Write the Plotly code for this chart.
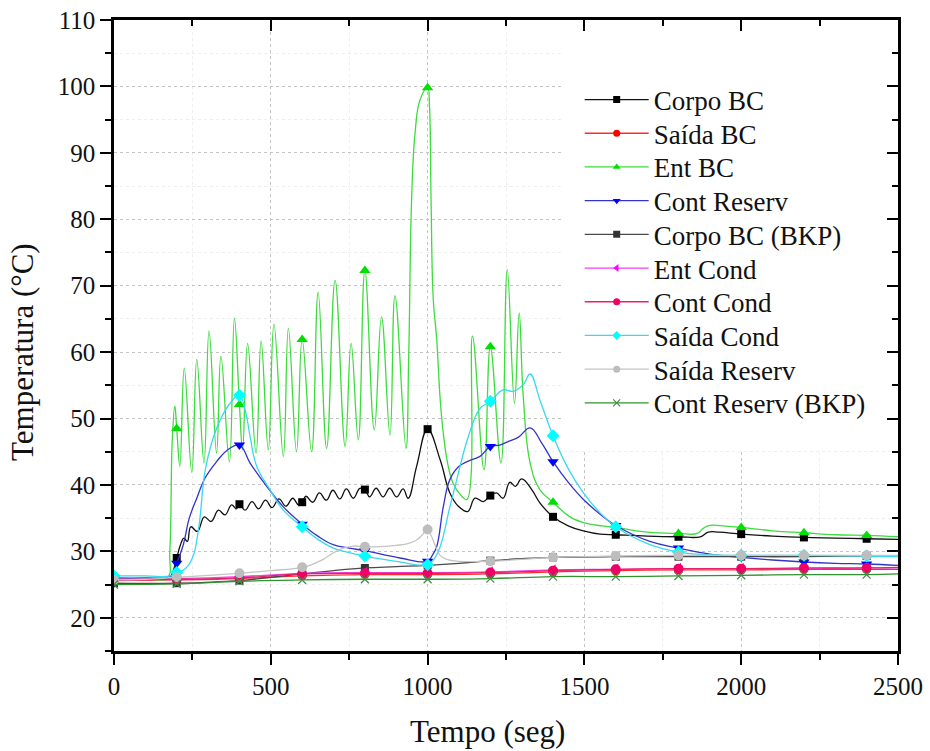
import plotly.graph_objects as go

# Sampling instants (s) where the symbols are placed on every curve
MARKER_TIMES = list(range(0, 2401, 200))

X_RANGE = [0, 2500]
Y_RANGE = [15, 110]

# (tempo [s], temperatura [°C]) for each sensor
CORPO_BC = [(0, 25.9), (100, 25.9), (175, 26.0), (188, 27.0), (200, 29.0), (212, 31.0), (223, 32.0),
            (234, 31.5), (245, 33.7), (266, 33.0), (288, 35.2), (310, 34.5), (333, 36.2), (354, 35.5),
            (375, 37.0), (390, 36.4), (400, 37.1), (418, 36.2), (440, 37.5), (461, 36.4), (483, 37.7),
            (504, 36.6), (526, 37.9), (548, 36.8), (570, 38.0), (588, 37.0), (600, 37.4), (612, 38.3),
            (634, 37.4), (655, 38.8), (677, 37.7), (698, 39.2), (720, 37.9), (741, 39.4), (763, 38.0),
            (784, 39.5), (800, 39.3), (815, 38.2), (836, 39.5), (858, 38.2), (879, 39.5), (901, 38.2),
            (922, 39.4), (938, 38.0), (965, 42.8), (1000, 48.4), (1040, 43.8), (1071, 38.8), (1098, 36.8),
            (1128, 36.0), (1151, 38.0), (1178, 37.5), (1200, 38.4), (1220, 38.8), (1241, 38.0), (1262, 40.4),
            (1280, 39.8), (1300, 40.9), (1332, 39.3), (1358, 37.3), (1400, 35.2), (1450, 33.8), (1497, 33.1),
            (1550, 32.6), (1600, 32.5), (1700, 32.3), (1800, 32.2), (1870, 32.2), (1895, 32.9), (1930, 32.9),
            (2000, 32.6), (2100, 32.3), (2200, 32.1), (2300, 32.0), (2400, 31.9), (2500, 31.8)]

SAIDA_BC = [(0, 25.6), (200, 25.7), (400, 25.9), (600, 26.3), (800, 26.5), (1000, 26.5), (1200, 26.6),
            (1400, 26.9), (1600, 27.1), (1800, 27.2), (2000, 27.2), (2200, 27.3), (2400, 27.3), (2500, 27.3)]

ENT_BC = [(0, 25.9), (100, 25.9), (170, 26.0), (178, 30.0), (186, 47.0), (194, 51.9), (200, 48.5),
          (210, 42.8), (224, 57.6), (248, 41.9), (264, 58.9), (287, 43.3), (303, 63.2), (327, 44.8),
          (341, 59.4), (368, 43.5), (384, 65.1), (400, 52.1), (410, 45.3), (426, 61.3), (453, 44.8),
          (469, 61.7), (492, 45.3), (510, 64.2), (540, 44.3), (556, 63.6), (582, 45.0), (600, 61.9),
          (630, 45.0), (651, 69.0), (678, 45.5), (705, 70.8), (737, 45.8), (756, 61.3), (779, 46.8),
          (800, 72.3), (830, 48.3), (853, 65.3), (880, 47.5), (896, 68.5), (931, 45.5), (940, 60.0),
          (949, 83.0), (960, 93.0), (976, 98.0), (1000, 99.8), (1006, 97.0), (1011, 83.0), (1018, 68.0),
          (1029, 62.0), (1040, 53.0), (1050, 47.8), (1065, 43.0), (1081, 40.3), (1105, 38.5), (1125, 37.8),
          (1143, 62.4), (1180, 42.3), (1200, 60.8), (1234, 43.3), (1254, 72.4), (1277, 52.3), (1292, 65.9),
          (1305, 53.3), (1327, 43.3), (1358, 39.3), (1400, 37.4), (1454, 35.2), (1507, 34.2), (1600, 33.6),
          (1700, 32.9), (1800, 32.7), (1860, 32.7), (1880, 33.5), (1900, 33.9), (1950, 33.8), (2000, 33.6),
          (2100, 33.1), (2200, 32.8), (2300, 32.5), (2400, 32.4), (2500, 32.2)]

CONT_RESERV = [(0, 26.0), (100, 26.0), (175, 26.1), (188, 26.6), (200, 28.2), (221, 31.0), (240, 35.0),
               (264, 38.0), (290, 41.0), (327, 43.5), (360, 45.2), (400, 46.0), (434, 43.3), (487, 39.8),
               (540, 36.7), (600, 34.1), (650, 32.3), (699, 31.0), (750, 30.5), (800, 30.1), (912, 29.0),
               (1000, 28.5), (1015, 29.4), (1029, 30.7), (1050, 36.7), (1071, 40.8), (1100, 42.8),
               (1130, 43.6), (1167, 44.3), (1200, 45.8), (1230, 46.0), (1260, 46.6), (1290, 47.2),
               (1327, 48.6), (1364, 46.3), (1400, 43.5), (1450, 40.3), (1497, 37.8), (1550, 35.6),
               (1600, 33.9), (1709, 31.5), (1800, 30.5), (1900, 29.6), (2000, 29.1), (2100, 28.7),
               (2200, 28.4), (2300, 28.2), (2400, 28.1), (2500, 27.9)]

CORPO_BC_BKP = [(0, 25.2), (200, 25.2), (400, 25.6), (500, 26.1), (600, 26.6), (700, 27.1), (800, 27.5),
                (900, 27.7), (1000, 27.9), (1100, 28.2), (1200, 28.6), (1300, 28.9), (1400, 29.1),
                (1600, 29.2), (1800, 29.2), (2000, 29.2), (2200, 29.2), (2400, 29.3), (2500, 29.3)]

ENT_COND = [(0, 25.8), (200, 25.9), (400, 26.2), (600, 26.7), (800, 26.8), (1000, 26.8), (1200, 26.9),
            (1400, 27.2), (1600, 27.3), (1800, 27.4), (2000, 27.4), (2200, 27.4), (2400, 27.5), (2500, 27.5)]

CONT_COND = [(0, 25.7), (200, 25.8), (400, 26.0), (600, 26.6), (800, 26.7), (1000, 26.7), (1200, 26.8),
             (1400, 27.1), (1600, 27.3), (1800, 27.4), (2000, 27.4), (2200, 27.5), (2400, 27.5), (2500, 27.6)]

SAIDA_COND = [(0, 26.3), (100, 26.3), (180, 26.3), (200, 26.8), (225, 27.3), (250, 29.0), (270, 33.5),
              (292, 42.5), (327, 48.5), (370, 52.3), (400, 53.5), (418, 51.3), (434, 47.3), (455, 42.8),
              (497, 39.3), (540, 36.2), (600, 33.7), (650, 31.8), (699, 30.5), (750, 29.8), (800, 29.3),
              (900, 28.5), (1000, 28.0), (1020, 28.8), (1040, 30.7), (1071, 36.7), (1093, 40.8),
              (1130, 47.3), (1167, 51.5), (1200, 52.6), (1241, 54.3), (1273, 54.1), (1305, 55.1),
              (1327, 56.7), (1358, 52.8), (1400, 47.4), (1450, 42.3), (1497, 38.8), (1550, 35.8),
              (1600, 33.7), (1709, 31.0), (1800, 29.9), (1900, 29.5), (2000, 29.4), (2200, 29.4),
              (2400, 29.3), (2500, 29.2)]

SAIDA_RESERV = [(0, 25.7), (100, 25.8), (200, 26.1), (300, 26.4), (400, 26.7), (500, 27.1), (600, 27.6),
                (640, 28.2), (667, 28.8), (700, 29.8), (731, 30.5), (765, 30.8), (800, 30.7), (850, 30.7),
                (900, 30.9), (940, 31.2), (965, 31.7), (985, 32.6), (1000, 33.3), (1012, 32.3),
                (1025, 30.8), (1040, 29.4), (1061, 28.8), (1100, 28.5), (1200, 28.5), (1300, 28.8),
                (1400, 29.1), (1500, 29.2), (1600, 29.3), (1800, 29.4), (2000, 29.4), (2200, 29.4),
                (2400, 29.4), (2500, 29.4)]

CONT_RESERV_BKP = [(0, 25.0), (200, 25.1), (400, 25.5), (600, 25.7), (800, 25.8), (1000, 25.8),
                   (1200, 25.9), (1400, 26.2), (1600, 26.2), (1800, 26.3), (2000, 26.4), (2200, 26.5),
                   (2400, 26.5), (2500, 26.6)]

# name, data, line colour, marker colour, symbol, marker size
SERIES = [
    ("Corpo BC", CORPO_BC, "#111111", "#000000", "square", 8),
    ("Saída BC", SAIDA_BC, "#ff2a2a", "#ff0000", "circle", 9),
    ("Ent BC", ENT_BC, "#3ddc3d", "#00e000", "triangle-up", 10),
    ("Cont Reserv", CONT_RESERV, "#3434c8", "#0000ff", "triangle-down", 10),
    ("Corpo BC (BKP)", CORPO_BC_BKP, "#4a4a4a", "#333333", "square", 8),
    ("Ent Cond", ENT_COND, "#f040f0", "#ff00ff", "triangle-left", 10),
    ("Cont Cond", CONT_COND, "#e8206a", "#ee0066", "circle", 10),
    ("Saída Cond", SAIDA_COND, "#38d8f0", "#00ffff", "diamond", 10),
    ("Saída Reserv", SAIDA_RESERV, "#c4c4c4", "#bdbdbd", "circle", 10),
    ("Cont Reserv (BKP)", CONT_RESERV_BKP, "#2f922f", "#4a8a4a", "x-thin", 8),
]

FONT = "Liberation Serif"
FIG_W, FIG_H = 930, 751
MARGIN = dict(l=114, r=32, t=20, b=100)
PLOT_W = FIG_W - MARGIN["l"] - MARGIN["r"]
PLOT_H = FIG_H - MARGIN["t"] - MARGIN["b"]

# legend rows: one small legend per entry so the row pitch can be set freely
LEGEND_X = 0.594
LEGEND_FIRST_ROW_PX = 100      # centre of first row, px from top of figure
LEGEND_PITCH_PX = 33.7

fig = go.Figure()

legend_layouts = {}
for i, (name, data, lcol, mcol, sym, msize) in enumerate(SERIES):
    t = [p[0] for p in data]
    v = [p[1] for p in data]
    mt = [p[0] for p in data if p[0] in MARKER_TIMES]
    mv = [p[1] for p in data if p[0] in MARKER_TIMES]
    marker = dict(symbol=sym, size=msize, color=mcol, line=dict(width=0))
    legend_marker = dict(symbol=sym, size=7, color=mcol, line=dict(width=0))
    if sym == "x-thin":
        marker["line"] = dict(width=1.3, color=mcol)
        legend_marker["line"] = dict(width=1.2, color=mcol)
    legend_id = "legend" if i == 0 else f"legend{i + 1}"
    # smooth curve
    fig.add_trace(go.Scatter(x=t, y=v, mode="lines",
                             line=dict(color=lcol, width=1.3, shape="spline", smoothing=1.2),
                             showlegend=False, hoverinfo="skip"))
    # symbols every 200 s
    fig.add_trace(go.Scatter(x=mt, y=mv, mode="markers", marker=marker, showlegend=False, name=name))
    # legend entry (line + symbol)
    fig.add_trace(go.Scatter(x=[None], y=[None], mode="lines+markers", name=name, legend=legend_id,
                             line=dict(color=lcol, width=1.3), marker=legend_marker))
    row_px = LEGEND_FIRST_ROW_PX + i * LEGEND_PITCH_PX
    legend_layouts[legend_id] = dict(
        x=LEGEND_X, y=1 - (row_px - MARGIN["t"]) / PLOT_H, xanchor="left", yanchor="middle",
        bgcolor="rgba(0,0,0,0)", borderwidth=0, itemwidth=64,
        font=dict(family=FONT, size=27, color="#111111"))

# white panel behind the legend, on the overlaid frame axes so it sits over the grid
PANEL_X0, PANEL_Y0 = 0.5727, 0.3185
px0 = X_RANGE[0] + PANEL_X0 * (X_RANGE[1] - X_RANGE[0])
py0 = Y_RANGE[0] + PANEL_Y0 * (Y_RANGE[1] - Y_RANGE[0])
fig.add_trace(go.Scatter(x=[px0, X_RANGE[1], X_RANGE[1], px0, px0],
                         y=[py0, py0, Y_RANGE[1], Y_RANGE[1], py0],
                         xaxis="x2", yaxis="y2",
                         mode="lines", fill="toself", fillcolor="#ffffff",
                         line=dict(width=0.5, color="#ffffff"),
                         showlegend=False, hoverinfo="skip"))

axis_common = dict(showline=True, linecolor="black", linewidth=2.5, zeroline=False, automargin=False,
                   tickcolor="black", tickwidth=2, ticklen=11, layer="above traces",
                   tickfont=dict(family=FONT, size=25, color="#111111"))

title_font = dict(family=FONT, size=31, color="#111111")
annotations = [
    dict(text="Tempo (seg)", xref="paper", yref="paper", x=(487 - MARGIN["l"]) / PLOT_W,
         y=(FIG_H - MARGIN["b"] - 731) / PLOT_H, xanchor="center", yanchor="middle",
         showarrow=False, font=title_font),
    dict(text="Temperatura (°C)", xref="paper", yref="paper", x=(22 - MARGIN["l"]) / PLOT_W,
         y=1 - (352 - MARGIN["t"]) / PLOT_H, xanchor="center", yanchor="middle", textangle=-90,
         showarrow=False, font=title_font),
]

fig.update_layout(
    width=FIG_W, height=FIG_H,
    margin=MARGIN,
    paper_bgcolor="white", plot_bgcolor="white",
    font=dict(family=FONT, color="#111111"),
    xaxis=dict(range=X_RANGE, tick0=0, dtick=500, ticks="outside",
               showgrid=True, gridcolor="#c4c4c4", griddash="dot", gridwidth=1,
               minor=dict(dtick=250, ticks="outside", ticklen=6, tickwidth=2, tickcolor="black",
                          showgrid=True, gridcolor="#eeeeee", gridwidth=1),
               **axis_common),
    yaxis=dict(range=Y_RANGE, tick0=0, dtick=10, ticks="outside",
               showgrid=True, gridcolor="#c4c4c4", griddash="dot", gridwidth=1,
               minor=dict(dtick=5, ticks="outside", ticklen=6, tickwidth=2, tickcolor="black",
                          showgrid=True, gridcolor="#eeeeee", gridwidth=1),
               **axis_common),
    xaxis2=dict(overlaying="x", side="top", range=X_RANGE, tick0=0, dtick=500, ticks="inside",
                showticklabels=False, showgrid=False,
                minor=dict(dtick=250, ticks="inside", ticklen=6, tickwidth=2, tickcolor="black"),
                **axis_common),
    yaxis2=dict(overlaying="y", side="right", range=Y_RANGE, tick0=0, dtick=10, ticks="inside",
                showticklabels=False, showgrid=False,
                minor=dict(dtick=5, ticks="inside", ticklen=6, tickwidth=2, tickcolor="black"),
                **axis_common),
    annotations=annotations,
    **legend_layouts,
)

fig.write_html("out.html")
